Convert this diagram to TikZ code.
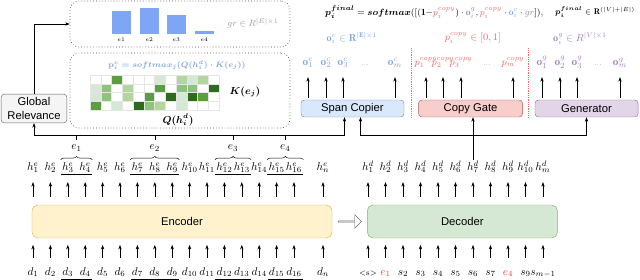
\documentclass[tikz,border=0pt]{standalone}
\usepackage{amsmath,amssymb}
\usepackage{fontspec}
\setsansfont{Liberation Sans}
\usetikzlibrary{arrows.meta, positioning, calc, shapes.arrows, decorations.pathreplacing}

\definecolor{encfill}{HTML}{FFF2CC}\definecolor{encline}{HTML}{D6B656}
\definecolor{decfill}{HTML}{D5E8D4}\definecolor{decline}{HTML}{82B366}
\definecolor{spanfill}{HTML}{DAE8FC}\definecolor{spanline}{HTML}{6C8EBF}
\definecolor{gatefill}{HTML}{F8CECC}\definecolor{gateline}{HTML}{B85450}
\definecolor{genfill}{HTML}{E1D5E7}\definecolor{genline}{HTML}{9673A6}
\definecolor{relfill}{HTML}{F5F5F5}\definecolor{relline}{HTML}{666666}
\definecolor{copyblue}{HTML}{7EA6E0}
\definecolor{copyred}{HTML}{EA6B66}
\definecolor{genpurple}{HTML}{A680B8}
\definecolor{tokred}{HTML}{FF3333}
\definecolor{barblue}{HTML}{7EA6F4}
\definecolor{hm0}{HTML}{FFFFFF}\definecolor{hm1}{HTML}{D5E8D4}
\definecolor{hm2}{HTML}{B3D69F}\definecolor{hm3}{HTML}{8CC47A}
\definecolor{hm4}{HTML}{5A9E3F}\definecolor{hm5}{HTML}{2E6B1E}

\tikzset{
  block/.style={
    rectangle, rounded corners=3pt, inner sep=1pt,
    text centered, font=\sffamily
  },
  panel/.style={draw=black!75, dotted, semithick, rounded corners=8pt},
  tok/.style={font=\normalsize, inner sep=1pt, text height=8pt, text depth=2.5pt},
  arrow/.style={-{Stealth[length=4pt, width=3pt]}, line width=0.5pt},
  brace/.style={decorate, decoration={brace, amplitude=3pt}, line width=0.4pt},
  sep/.style={densely dotted, copyred, line width=0.6pt}
}

\begin{document}
\begin{tikzpicture}[x=0.03125cm, y=0.03125cm, node distance=0.4cm]
  \useasboundingbox (0,0) rectangle (640,280);

  % encoder / decoder
  \node[block, rounded corners=5pt, draw=encline, fill=encfill, minimum width=9.375cm, minimum height=1.03cm] (enc) at (182,58.5) {Encoder};
  \node[block, rounded corners=5pt, draw=decline, fill=decfill, minimum width=5.94cm, minimum height=1.03cm, right=1.09cm of enc] (dec) {Decoder};
  \node[single arrow, draw=black!60, fill=white, minimum height=0.72cm, minimum width=0.42cm,
        single arrow head extend=2pt, inner sep=0pt] (pass) at ($(enc.east)!.5!(dec.west)$) {};

  % heads above
  \node[block, draw=relline, fill=relfill, minimum width=2.06cm, minimum height=0.9cm, align=center] (gr) at (34,171.5) {Global\\Relevance};
  \node[block, draw=spanline, fill=spanfill, minimum width=3.22cm, minimum height=0.53cm] (span) at (352.5,171.5) {Span Copier};
  \node[block, draw=gateline, fill=gatefill, minimum width=3.25cm, minimum height=0.53cm, right=0.44cm of span] (cg) {Copy Gate};
  \node[block, draw=genline, fill=genfill, minimum width=3.22cm, minimum height=0.53cm, right=0.375cm of cg] (gen) {Generator};

  \coordinate (ebus) at (0,145);

  % encoder tokens
  \foreach \i in {1,...,16} {
    \pgfmathsetmacro{\xpos}{33+(\i-1)*17.4}
    \node[tok] (d\i) at (\xpos,8) {$d_{\i}$};
    \node[tok] (he\i) at (\xpos,113) {$h^e_{\i}$};
    \draw[arrow, shorten <=6pt, shorten >=6pt] (d\i) -- (d\i |- enc.south);
    \draw[arrow, shorten <=7pt, shorten >=7pt] (d\i |- enc.north) -- (he\i);
  }
  \node[tok] (dn) at (323,8) {$d_n$};
  \node[tok] (hen) at (323,113) {$h^e_n$};
  \draw[arrow, shorten <=6pt, shorten >=6pt] (dn) -- (dn |- enc.south);
  \draw[arrow, shorten <=7pt, shorten >=7pt] (dn |- enc.north) -- (hen);

  % entity spans
  \foreach \a/\b/\n in {3/4/1, 7/9/2, 12/13/3, 15/16/4} {
    \draw[line width=0.4pt] (he\a.south west) -- (he\a.south west -| he\b.south east);
    \draw[line width=0.4pt] (d\a.south west) -- (d\a.south west -| d\b.south east);
    \draw[brace] (he\a.north west) -- (he\a.north west -| he\b.north east)
      node[midway, above=5pt, tok] (e\n) {$e_{\n}$};
    \draw[line width=0.5pt] (e\n.north) -- (e\n |- ebus);
  }

  % decoder tokens
  \foreach \s [count=\i] in {{\scriptsize$<$s$>$}, $\textcolor{tokred}{e_1}$, $s_2$, $s_3$, $s_4$, $s_5$, $s_6$, $s_7$, $\textcolor{tokred}{e_4}$, $s_9$, $s_{m-1}$} {
    \pgfmathsetmacro{\xpos}{368+(\i-1)*17.5}
    \node[tok] (din\i) at (\xpos,8) {\s};
    \draw[arrow, shorten <=6pt, shorten >=6pt] (din\i) -- (din\i |- dec.south);
  }
  \foreach \s [count=\i] in {1,2,3,4,5,6,7,8,9,10,m} {
    \pgfmathsetmacro{\xpos}{368+(\i-1)*17.5}
    \node[tok] (hd\i) at (\xpos,113) {$h^d_{\s}$};
    \draw[arrow, shorten <=7pt, shorten >=7pt] (hd\i |- dec.north) -- (hd\i);
  }

  % connections to the heads
  \draw[arrow] (ebus -| gr.south) -- (gr.south);
  \draw[arrow] (ebus -| gr.south) -| ($(span.south)+(-8,0)$);
  \draw[arrow] (hd7) -- (hd7 |- cg.south);
  \draw[arrow] (hd7 |- ebus) -| ($(span.south)+(8,0)$);
  \draw[arrow] (hd7 |- ebus) -| (gen.south);

  % panels
  \node[panel, minimum width=6.875cm, minimum height=1.4375cm] (barpanel) at (180,256) {};
  \node[panel, minimum width=6.875cm, minimum height=2.34cm] (attpanel) at (180,189.5) {};
  \draw[arrow] (gr.north) |- (barpanel.west);

  \foreach \bx/\bh/\n in {112/23/1, 140/26/2, 167/19/3, 195/3/4} {
    \fill[barblue] (\bx,246) rectangle ++(18.5,\bh);
    \node[font=\tiny, inner sep=0pt] (bl\n) at ({\bx+9.25},240) {$e\n$};
  }
  \node[font=\footnotesize, text=black!40] (grl) at (253,257) {$gr \in R^{|E|\times 1}$};

  \foreach \rowvals [count=\rr] in {{0,0,4,0,0,0,1,0,2,1,2,0}, {1,3,0,2,0,0,4,0,3,3,0,5}, {1,3,0,2,0,4,0,5,1,5,4,0}, {4,0,1,0,5,3,2,0,1,0,0,0}} {
    \foreach \vv [count=\cc] in \rowvals {
      \pgfmathsetmacro{\cx}{90+(\cc-1)*10.75}
      \pgfmathsetmacro{\cy}{205-(\rr-1)*8.75}
      \filldraw[fill=hm\vv, draw=black!10, line width=0.3pt] (\cx,\cy) rectangle ++(10.75,-8.75);
    }
  }
  \node[font=\scriptsize, text=copyblue] (attn) at (177,215) {$\boldsymbol{\mathbf{p}_i^{c} = softmax_j(Q(h_i^d)\cdot K(e_j))}$};
  \node[font=\small] (keys) at (245,188) {$\boldsymbol{K(e_j)}$};
  \node[font=\small] (query) at (178,160) {$\boldsymbol{Q(h_i^d)}$};

  % outputs
  \foreach \ox/\s [count=\i] in {308/1, 326/2, 343/3, 395/m} {
    \node[tok, text=copyblue] (oc\i) at (\ox,218) {$\mathbf{o}_{\s}^{c}$};
    \draw[arrow, shorten <=2pt, shorten >=7pt] (oc\i |- span.north) -- (oc\i);
  }
  \foreach \ox/\s [count=\i] in {426/1, 443/2, 461/3, 513/m} {
    \node[tok, font=\small, text=copyred] (pc\i) at (\ox,218) {$p_{\s}^{copy}$};
    \draw[arrow, shorten <=2pt, shorten >=7pt] (pc\i |- cg.north) -- (pc\i);
  }
  \foreach \ox/\s [count=\i] in {542/1, 560/2, 577/3, 620/m} {
    \node[tok, text=genpurple] (og\i) at (\ox,218) {$\mathbf{o}_{\s}^{g}$};
    \draw[arrow, shorten <=2pt, shorten >=7pt] (og\i |- gen.north) -- (og\i);
  }
  \node[tok, font=\footnotesize, text=black!35] (ocdots) at (365,218) {...};
  \node[tok, font=\footnotesize, text=black!35] (pcdots) at (487,218) {...};
  \node[tok, font=\footnotesize, text=black!35] (ogdots) at (598,218) {...};

  \node[font=\small, text=copyblue] (ocl) at (352,242) {$\mathbf{o}_i^{c} \in \mathbf{R}^{|\mathbf{E}|\times 1}$};
  \node[font=\small, text=copyred] (pcl) at (473,242) {$p_i^{copy} \in [0,1]$};
  \node[font=\small, text=genpurple] (ogl) at (580,242) {$\mathbf{o}_i^{g} \in R^{|V|\times 1}$};

  \coordinate (sepa) at ($(span.east)!.5!(cg.west)$);
  \coordinate (sepb) at ($(cg.east)!.5!(gen.west)$);
  \draw[sep] (sepa |- span.south) -- (sepa |- pcl.south);
  \draw[sep] (sepb |- cg.south) -- (sepb |- pcl.south);

  % final distribution
  \node[font=\fontsize{8.4}{10}\selectfont, anchor=west, inner sep=0pt] (pfinal) at (325,268)
    {$\boldsymbol{p_i^{final}} = \boldsymbol{softmax}([(\mathbf{1}{-}\textcolor{copyred}{p_i^{copy}})\cdot\textcolor{genpurple}{\mathbf{o}_i^{g}},\textcolor{copyred}{p_i^{copy}}\cdot\textcolor{copyblue}{\mathbf{o}_i^{c}}\cdot\textcolor{black!45}{gr}]),$};
  \node[font=\fontsize{7.4}{9}\selectfont, anchor=west, inner sep=0pt] (prange) at (555,268) {$\boldsymbol{p_i^{final}} \in \mathbf{R}^{(|V|+|E|)}$};
\end{tikzpicture}
\end{document}
